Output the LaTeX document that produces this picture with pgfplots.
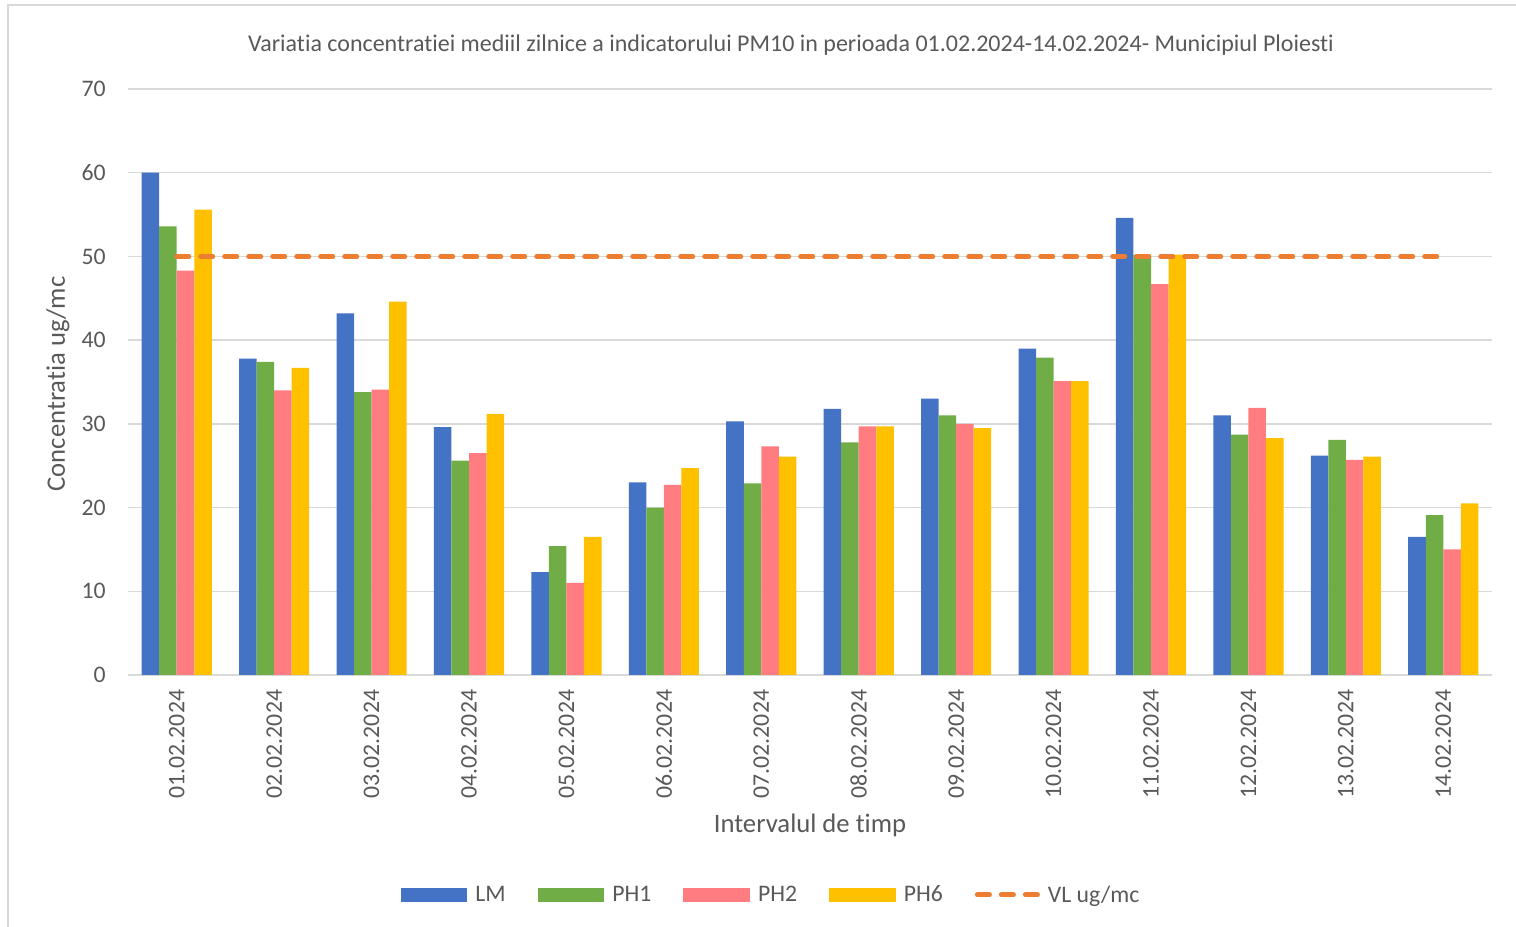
\documentclass[border=0pt]{standalone}
\usepackage{pgfplots}
\pgfplotsset{compat=1.18}
\usepackage{pgfplotstable}
\usepackage{fontspec}
\setmainfont{Carlito}[Ligatures=NoCommon]
\definecolor{cLM}{HTML}{4472C4}
\definecolor{cPHa}{HTML}{70AD47}
\definecolor{cPHb}{HTML}{FF7C80}
\definecolor{cPHc}{HTML}{FFC000}
\definecolor{cVL}{HTML}{ED7D31}
\definecolor{txt}{HTML}{595959}
\definecolor{grd}{HTML}{D9D9D9}
\pgfplotstableread{
x LM PH1 PH2 PH6 VL
0 60.0 53.6 48.3 55.6 50
1 37.8 37.4 34.0 36.7 50
2 43.2 33.8 34.1 44.6 50
3 29.6 25.6 26.5 31.2 50
4 12.3 15.4 11.0 16.5 50
5 23.0 20.0 22.7 24.7 50
6 30.3 22.9 27.3 26.1 50
7 31.8 27.8 29.7 29.7 50
8 33.0 31.0 30.0 29.5 50
9 39.0 37.9 35.1 35.1 50
10 54.6 50.2 46.7 50.2 50
11 31.0 28.7 31.9 28.3 50
12 26.2 28.1 25.7 26.1 50
13 16.5 19.1 15.0 20.5 50
}\data
\begin{document}
\begin{tikzpicture}
\path[use as bounding box] (0,0) rectangle (1137pt,695.25pt);
\draw[grd, line width=0.9pt] (6pt,0) -- (6pt,691.5pt) -- (1137pt,691.5pt);
\node[txt, font=\fontsize{18}{21}\selectfont] at (593.25pt,661.5pt) {Variatia concentratiei mediil zilnice a indicatorului PM10 in perioada 01.02.2024-14.02.2024- Municipiul Ploiesti};
\node[txt, font=\fontsize{20}{24}\selectfont, rotate=90] at (43.5pt,407.25pt) {Concentratia ug/mc};
\node[txt, font=\fontsize{20}{24}\selectfont] at (607.5pt,76.5pt) {Intervalul de timp};
\begin{axis}[
  at={(96pt,189pt)}, anchor=south west,
  scale only axis, width=1023pt, height=439.5pt,
  ybar=0pt, bar width=0.18,
  xmin=-0.5, xmax=13.5, ymin=0, ymax=70,
  ytick={0,10,...,70},
  xtick={0,...,13},
  xticklabels={01.02.2024,02.02.2024,03.02.2024,04.02.2024,05.02.2024,06.02.2024,07.02.2024,08.02.2024,09.02.2024,10.02.2024,11.02.2024,12.02.2024,13.02.2024,14.02.2024},
  xticklabel style={rotate=90, anchor=east, inner sep=0pt},
  yticklabel style={inner sep=0pt},
  xticklabel shift=11pt, yticklabel shift=16.5pt,
  /pgf/number format/assume math mode=true,
  tick label style={txt, font=\fontsize{17.8}{20}\selectfont},
  major tick length=0pt,
  ymajorgrids, grid style={grd, line width=1.1pt},
  axis x line*=bottom, axis y line*=left,
  x axis line style={grd, line width=1.1pt, -},
  y axis line style={draw=none},
  legend columns=5,
  legend style={draw=none, fill=none, at={(0.4707,-0.3754)}, anchor=center,
    font=\fontsize{17.8}{20}\selectfont, text=txt,
    nodes={inner sep=0pt},
    /tikz/every odd column/.append style={column sep=6pt},
    /tikz/every even column/.append style={column sep=24pt}},
]
\addplot[fill=cLM, draw=none, legend image code/.code={\fill[cLM] (0pt,-4.9pt) rectangle (50pt,4.9pt);}] table[x=x,y=LM]{\data};
\addlegendentry{LM}
\addplot[fill=cPHa, draw=none, legend image code/.code={\fill[cPHa] (0pt,-4.9pt) rectangle (50pt,4.9pt);}] table[x=x,y=PH1]{\data};
\addlegendentry{PH1}
\addplot[fill=cPHb, draw=none, legend image code/.code={\fill[cPHb] (0pt,-4.9pt) rectangle (50pt,4.9pt);}] table[x=x,y=PH2]{\data};
\addlegendentry{PH2}
\addplot[fill=cPHc, draw=none, legend image code/.code={\fill[cPHc] (0pt,-4.9pt) rectangle (50pt,4.9pt);}] table[x=x,y=PH6]{\data};
\addlegendentry{PH6}
\addplot[sharp plot, cVL, line width=3.75pt, line cap=round, dash pattern=on 9pt off 9pt,
  legend image code/.code={\draw[cVL, line width=3.75pt, line cap=round, dash pattern=on 9pt off 9pt] (1.875pt,0) -- (46.875pt,0);}] table[x=x,y=VL]{\data};
\addlegendentry{VL ug/mc}
\end{axis}
\end{tikzpicture}
\end{document}
